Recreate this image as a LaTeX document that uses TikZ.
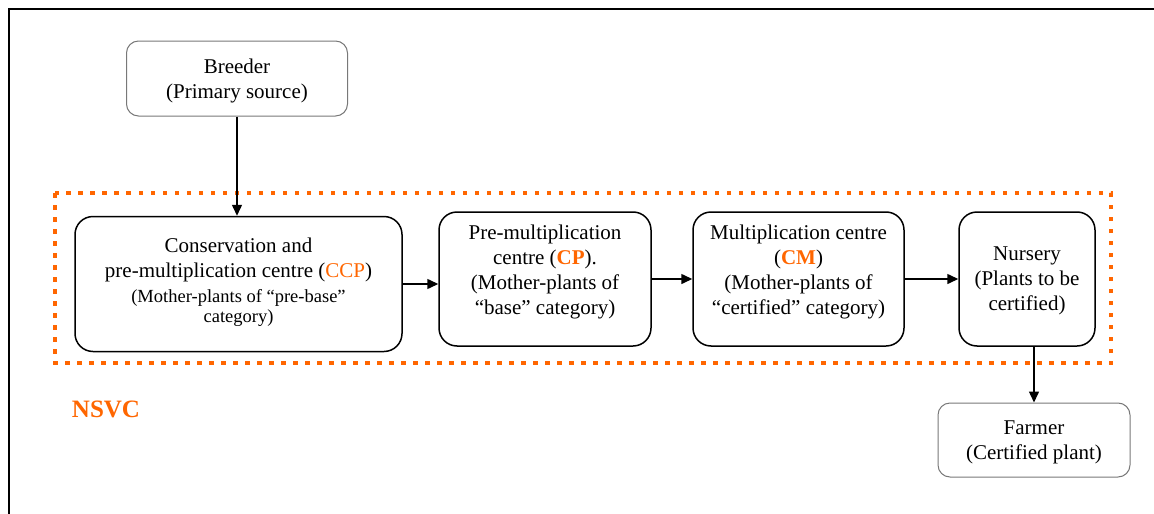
\documentclass[tikz,border=0pt]{standalone}
\usepackage{fontspec}
\setmainfont{Liberation Serif}
\usetikzlibrary{arrows.meta,positioning}
\definecolor{nsvc}{RGB}{255,102,0}
\definecolor{edge}{RGB}{120,120,120}
\newcommand\notefont{\fontsize{18.5}{20}\selectfont}
\tikzset{
    box/.style =    {rectangle,
                    rounded corners=18pt,
                    fill=white,
                    draw=black,
                    text=black,
                    line width=1.5pt,
                    align=center,
                    inner sep=0pt,
                    font=\fontsize{21}{25}\selectfont},
    source/.style = {box,
                    rounded corners=12pt,
                    draw=edge,
                    line width=1pt},
    lift/.style =   {text depth=#1},
    zone/.style =   {draw=nsvc,
                    line width=4.5pt,
                    dash pattern=on 4.5pt off 7.5pt},
    tag/.style =    {text=nsvc,
                    font=\bfseries\fontsize{25}{30}\selectfont},
    -,
    flow/.style =   {draw,
                    line width=1.5pt,
                    -{Triangle[length=11pt,width=10pt]}},
    frame/.style =  {line width=2.5pt}}

\begin{document}
\begin{tikzpicture}[x=1pt,y=-1pt]
    \useasboundingbox (0,0) rectangle (1154,514);
    \draw[frame] (9,514) -- (9,9) -- (1154,9);
    % the NSVC zone
    \draw[zone] (55,193) rectangle (1111,363);
    \node[tag]  (nsvc) at (106,409) {NSVC};
    % boxes
    \node[source, lift=0pt, minimum width=221pt, minimum height=75pt] (breeder) at (237,78.5)
        {Breeder\\(Primary source)};
    \node[box, lift=8pt, minimum width=327pt, minimum height=135pt] (ccp) at (238.5,284)
        {Conservation and\\pre-multiplication centre (\textcolor{nsvc}{CCP})\\
         \notefont(Mother-plants of “pre-base”\\[-5pt]\notefont category)};
    \node[box, lift=19pt, minimum width=212pt, minimum height=134pt] (cp) at (545,279)
        {Pre-multiplication\\centre (\textcolor{nsvc}{\bfseries CP}).\\(Mother-plants of\\“base” category)};
    \node[box, lift=19pt, minimum width=211pt, minimum height=134pt] (cm) at (798.5,279)
        {Multiplication centre\\(\textcolor{nsvc}{\bfseries CM})\\(Mother-plants of\\“certified” category)};
    \node[box, lift=-5pt, minimum width=136pt, minimum height=134pt] (nursery) at (1027,279)
        {Nursery\\(Plants to be\\certified)};
    \node[source, lift=0pt, minimum width=192pt, minimum height=74pt] (farmer) at (1034,440)
        {Farmer\\(Certified plant)};
    % arrows
    \draw[flow] (breeder.south) -- (breeder.south |- ccp.north);
    \draw[flow] (ccp.east) -- (ccp.east -| cp.west);
    \draw[flow] (cp) -- (cm);
    \draw[flow] (cm) -- (nursery);
    \draw[flow] (nursery.south -| farmer) -- (farmer.north);
\end{tikzpicture}
\end{document}
